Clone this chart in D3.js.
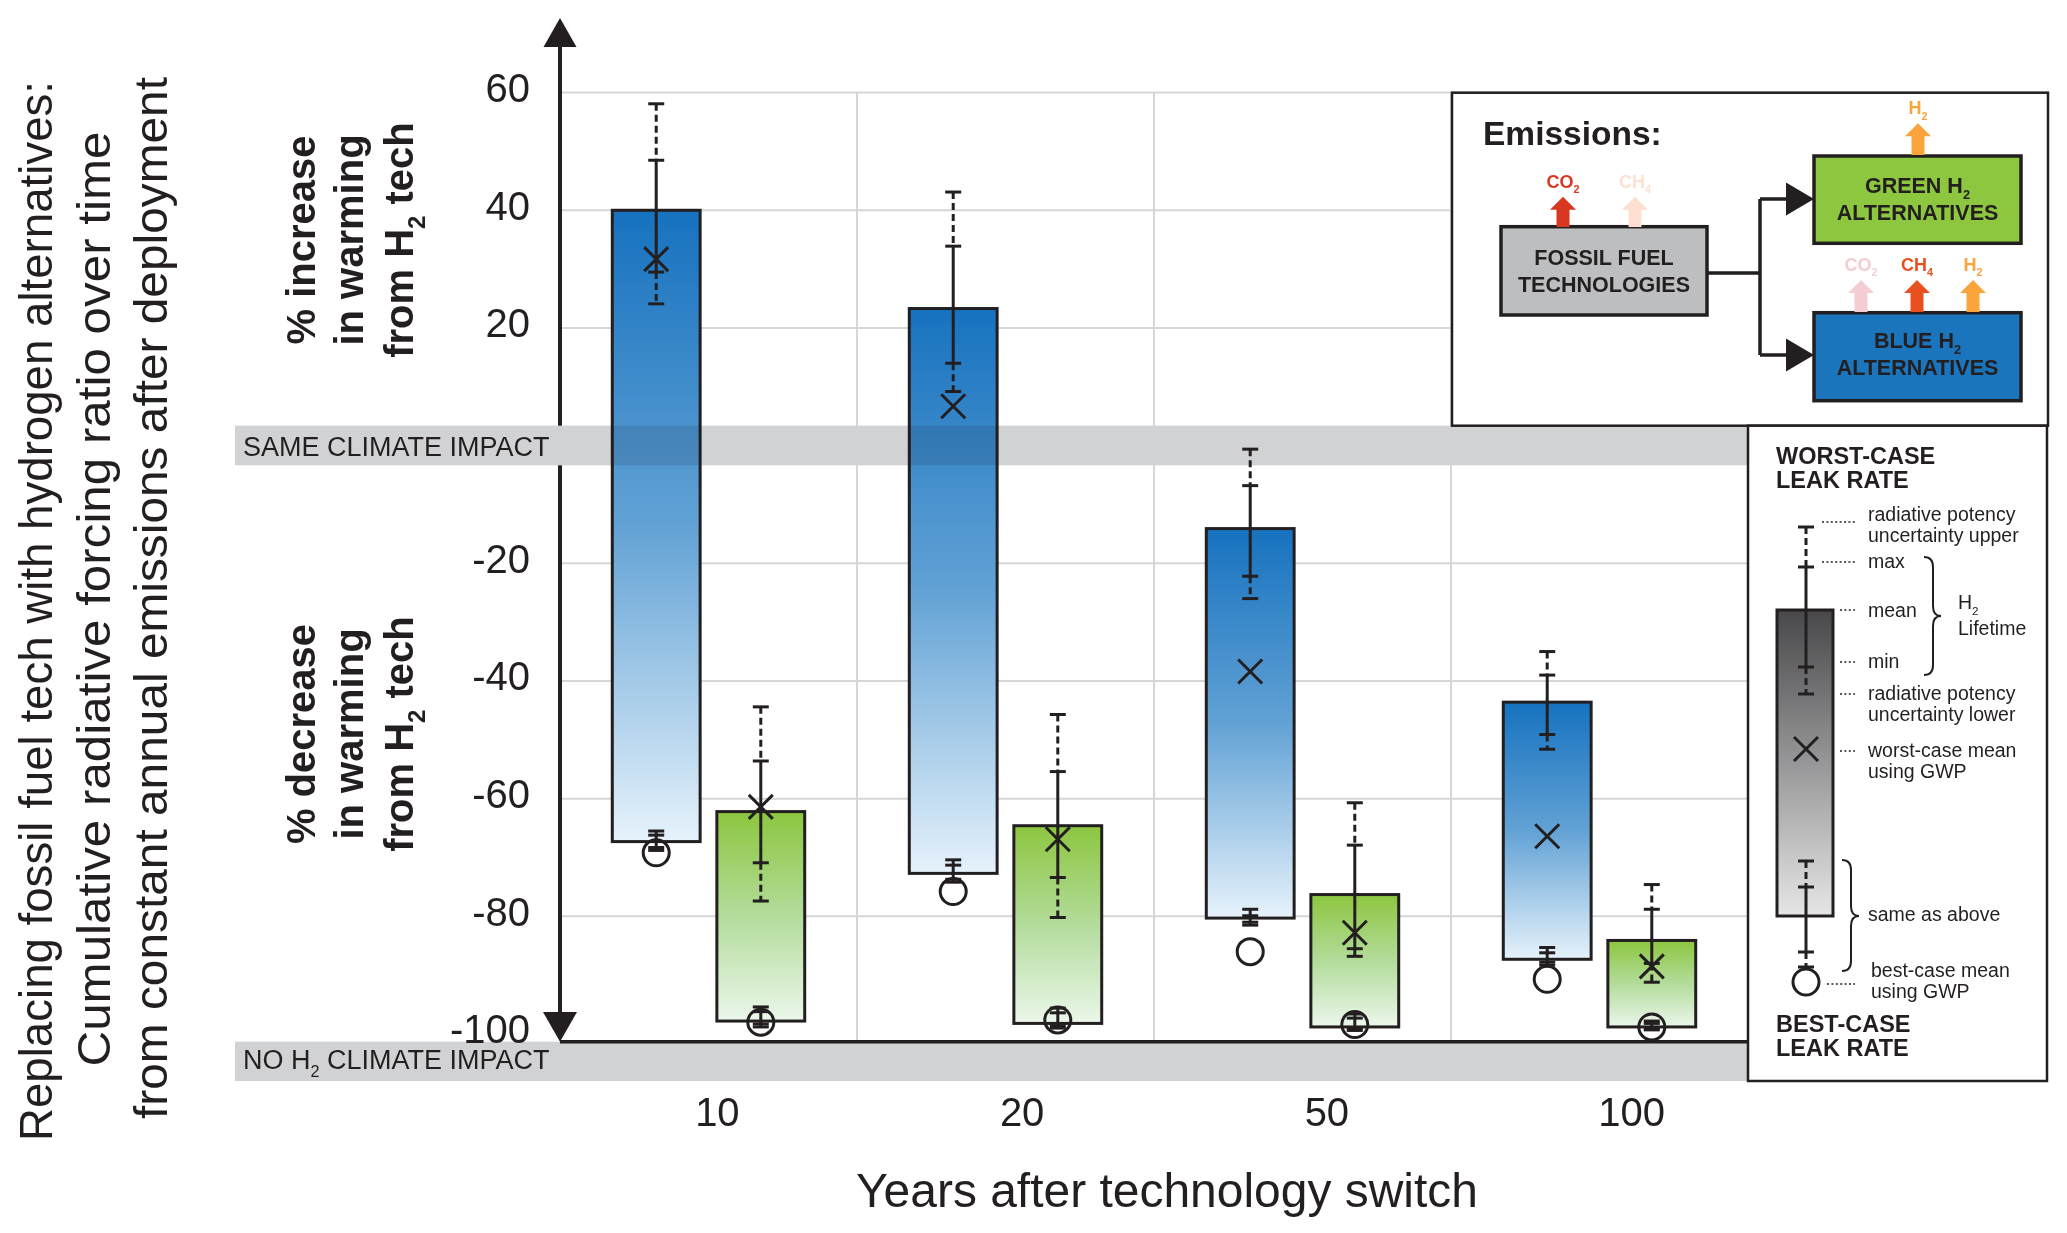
<!DOCTYPE html>
<html>
<head>
<meta charset="utf-8">
<script src="https://cdn.jsdelivr.net/npm/d3@7"></script>
<style>
  html, body { margin: 0; padding: 0; background: #fff; }
  svg { display: block; }
  text { font-family: "Liberation Sans", Arial, Helvetica, sans-serif; fill: #231f20; }
</style>
</head>
<body>
<div id="chart"></div>
<script>
// Categories
const years = ["10", "20", "50", "100"];
const techs = ["blue", "green"];
const yTicks = [60, 40, 20, -20, -40, -60, -80, -100];

// Worst-case leak rate per year: potency upper, max, mean (bar top), min, potency lower
const blueWorst = [
    [58.1, 48.5, 40.0, 29.5, 24.1],
    [43.1, 33.9, 23.3, 14.0, 9.2],
    [-0.6, -6.8, -14.1, -22.2, -26.0],
    [-35.0, -39.0, -43.6, -49.1, -51.6]
];
const blueWorstGwp = [31.7, 6.7, -38.4, -66.4];
// Best-case leak rate: same order, mean is the bar bottom
const blueBest = [
    [-65.5, -66.2, -67.3, -68.3, -68.8],
    [-70.4, -71.3, -72.7, -73.7, -74.2],
    [-78.8, -79.9, -80.3, -81.0, -81.5],
    [-85.3, -86.2, -87.3, -87.8, -88.3]
];
const blueBestGwp = [-69.2, -75.8, -86.0, -90.7];

const greenWorst = [
    [-44.4, -53.6, -62.2, -70.9, -77.4],
    [-45.7, -55.4, -64.6, -73.4, -80.2],
    [-60.7, -67.9, -76.3, -85.5, -86.8],
    [-74.6, -78.8, -84.1, -88.0, -91.2]
];
const greenWorstGwp = [-61.4, -66.9, -82.8, -88.5];
const greenBest = [
    [-95.4, -96.2, -97.8, -98.3, -98.8],
    [-95.6, -96.4, -98.2, -98.6, -99.0],
    [-96.6, -97.3, -98.8, -99.1, -99.4],
    [-97.8, -98.2, -98.8, -99.1, -99.3]
];
const greenBestGwp = [-98.0, -97.6, -98.4, -98.8];

const rows = [];
years.forEach((yr, i) => {
    rows.push({year: yr, tech: "blue", worst: blueWorst[i], best: blueBest[i], wGwp: blueWorstGwp[i], bGwp: blueBestGwp[i]});
    rows.push({year: yr, tech: "green", worst: greenWorst[i], best: greenBest[i], wGwp: greenWorstGwp[i], bGwp: greenBestGwp[i]});
});

const ink = "#231f20";
const svgWidth = 2067, svgHeight = 1233;

let svg = d3.select("#chart").append("svg")
    .attr("width", svgWidth)
    .attr("height", svgHeight);
svg.append("rect").attr("width", svgWidth).attr("height", svgHeight).attr("fill", "#fff");

// Scales
let y = d3.scaleLinear().domain([-100, 60]).range([1034, 92.6]);
let x0 = d3.scaleBand().domain(years).range([560, 1748]);
let x1 = d3.scaleBand().domain(techs).range([0, x0.bandwidth()]).paddingInner(0.16).paddingOuter(0.5);
let xLabel = d3.scaleBand().domain(years).range([565, 1784]);
const axisX = 560;
const baseY = y(-101.3);

// Gradients
let defs = svg.append("defs");
function gradient(id, stops) {
    let g = defs.append("linearGradient").attr("id", id)
        .attr("x1", 0).attr("y1", 0).attr("x2", 0).attr("y2", 1);
    stops.forEach(s => g.append("stop").attr("offset", s[0]).attr("stop-color", s[1]));
}
gradient("grad-blue", [[0, "#1672bf"], [0.5, "#62a2d5"], [1, "#e6f2fb"]]);
gradient("grad-green", [[0, "#8cc63f"], [0.5, "#b3dc9b"], [1, "#ebf7eb"]]);
gradient("grad-gray", [[0, "#48484a"], [1, "#e6e6e7"]]);

// helper for text with subscripts
function rich(sel, parts) {
    const fs = parseFloat(sel.attr("font-size"));
    parts.forEach((p, i) => {
        let ts = sel.append("tspan").text(p[0]);
        if (p[1]) ts.attr("font-size", fs * 0.6).attr("dy", fs * 0.3);
        else if (i > 0 && parts[i - 1][1]) ts.attr("dy", -fs * 0.3);
    });
    return sel;
}

// Gridlines
let grid = svg.append("g").attr("stroke", "#d6d6d8").attr("stroke-width", 2);
grid.selectAll("line.h")
    .data(yTicks.filter(d => d > -100))
    .join("line")
    .attr("x1", axisX).attr("x2", 2047)
    .attr("y1", d => y(d)).attr("y2", d => y(d));
grid.selectAll("line.v")
    .data(years.slice(1))
    .join("line")
    .attr("x1", d => x0(d)).attr("x2", d => x0(d))
    .attr("y1", y(60)).attr("y2", baseY);

// Y axis line with arrows
svg.append("line")
    .attr("x1", axisX).attr("x2", axisX)
    .attr("y1", 45).attr("y2", 1014)
    .attr("stroke", ink).attr("stroke-width", 4);
svg.append("path")
    .attr("d", `M${axisX - 16.5},47 L${axisX + 16.5},47 L${axisX},18 Z`)
    .attr("fill", ink);

// Bands
const sameTop = y(3.4), sameBot = y(-3.35);
svg.append("rect")
    .attr("x", 235).attr("width", 1748 - 235)
    .attr("y", sameTop).attr("height", sameBot - sameTop)
    .attr("fill", "#d1d2d4");
svg.append("rect")
    .attr("x", 235).attr("width", 1748 - 235)
    .attr("y", baseY).attr("height", 1081 - baseY)
    .attr("fill", "#d1d2d4");
svg.append("line")
    .attr("x1", axisX).attr("x2", 1748)
    .attr("y1", baseY).attr("y2", baseY)
    .attr("stroke", ink).attr("stroke-width", 3.5);
svg.append("path")
    .attr("d", `M${axisX - 17},1012 L${axisX + 17},1012 L${axisX},${baseY} Z`)
    .attr("fill", ink);

svg.append("text")
    .attr("x", 243).attr("y", y(0) + 10)
    .attr("font-size", 27)
    .text("SAME CLIMATE IMPACT");
rich(svg.append("text").attr("x", 243).attr("y", 1069).attr("font-size", 27),
    [["NO H", false], ["2", true], [" CLIMATE IMPACT", false]]);

// Y tick labels (plain hyphen minus, as in the original)
let yAxis = svg.append("g")
    .attr("transform", `translate(${axisX},0)`)
    .call(d3.axisLeft(y).tickValues(yTicks).tickFormat(d => String(d)).tickSize(0).tickPadding(30));
yAxis.select(".domain").remove();
yAxis.attr("font-family", null).attr("font-size", null);
yAxis.selectAll("text").attr("font-size", 40).attr("y", -4).attr("fill", ink);

// X labels
let xAxis = svg.append("g")
    .attr("transform", "translate(0,1095)")
    .call(d3.axisBottom(xLabel).tickSize(0));
xAxis.select(".domain").remove();
xAxis.attr("font-family", null).attr("font-size", null);
xAxis.selectAll("text").attr("font-size", 40).attr("fill", ink);

svg.append("text")
    .attr("x", 1167).attr("y", 1207)
    .attr("text-anchor", "middle")
    .attr("font-size", 48)
    .attr("textLength", 622).attr("lengthAdjust", "spacingAndGlyphs")
    .text("Years after technology switch");

// Left titles
const titles = [
    ["Replacing fossil fuel tech with hydrogen alternatives:", 51.7, 611, 1060],
    ["Cumulative radiative forcing ratio over time", 110, 599, 935],
    ["from constant annual emissions after deployment", 166.7, 598, 1042]
];
titles.forEach(t => {
    svg.append("text")
        .attr("transform", `translate(${t[1]},${t[2]}) rotate(-90)`)
        .attr("text-anchor", "middle")
        .attr("font-size", 46)
        .attr("textLength", t[3]).attr("lengthAdjust", "spacingAndGlyphs")
        .text(t[0]);
});

// Inner axis labels
function sideLabel(lines, cy) {
    const bx = [315, 363, 413];
    lines.forEach((parts, i) => {
        let t = svg.append("text")
            .attr("transform", `translate(${bx[i]},${cy}) rotate(-90)`)
            .attr("text-anchor", "middle")
            .attr("font-size", 40)
            .attr("font-weight", "bold");
        rich(t, parts);
    });
}
sideLabel([[["% increase", false]], [["in warming", false]], [["from H", false], ["2", true], [" tech", false]]], 240);
sideLabel([[["% decrease", false]], [["in warming", false]], [["from H", false], ["2", true], [" tech", false]]], 734);

// Bars
const bw = x1.bandwidth();
const barX = d => x0(d.year) + x1(d.tech);
let bars = svg.append("g");
bars.selectAll("rect")
    .data(rows)
    .join("rect")
    .attr("x", barX)
    .attr("y", d => y(d.worst[2]))
    .attr("width", bw)
    .attr("height", d => y(d.best[2]) - y(d.worst[2]))
    .attr("fill", d => `url(#grad-${d.tech})`)
    .attr("stroke", ink)
    .attr("stroke-width", 3);

// band darkens the bars slightly where it crosses them
let clip = defs.append("clipPath").attr("id", "barClip");
clip.selectAll("rect").data(rows).join("rect")
    .attr("x", barX).attr("y", d => y(d.worst[2]))
    .attr("width", bw).attr("height", d => y(d.best[2]) - y(d.worst[2]));
svg.append("rect")
    .attr("x", 235).attr("width", 1748 - 235)
    .attr("y", sameTop).attr("height", sameBot - sameTop)
    .attr("fill", "#e2e3e5")
    .attr("clip-path", "url(#barClip)")
    .style("mix-blend-mode", "multiply");

// Whiskers: ys = [upper, max, mean, min, lower] in px
function whisker(g, cx, ys) {
    const segs = [[ys[0], ys[1], true], [ys[1], ys[3], false], [ys[3], ys[4], true]];
    segs.forEach(s => {
        g.append("line")
            .attr("x1", cx).attr("x2", cx).attr("y1", s[0]).attr("y2", s[1])
            .attr("stroke", ink).attr("stroke-width", 3)
            .attr("stroke-dasharray", s[2] ? "7,4" : null);
    });
    [ys[0], ys[1], ys[3], ys[4]].forEach(v => {
        g.append("line")
            .attr("x1", cx - 8).attr("x2", cx + 8).attr("y1", v).attr("y2", v)
            .attr("stroke", ink).attr("stroke-width", 3);
    });
}
function cross(g, cx, cy) {
    g.append("path")
        .attr("d", `M${cx - 12},${cy - 12}L${cx + 12},${cy + 12}M${cx - 12},${cy + 12}L${cx + 12},${cy - 12}`)
        .attr("stroke", ink).attr("stroke-width", 3).attr("fill", "none");
}
function ring(g, cx, cy) {
    g.append("circle").attr("cx", cx).attr("cy", cy).attr("r", 13)
        .attr("fill", "none").attr("stroke", ink).attr("stroke-width", 3);
}

let marks = svg.append("g");
rows.forEach(d => {
    const cx = barX(d) + bw / 2;
    whisker(marks, cx, d.worst.map(y));
    whisker(marks, cx, d.best.map(y));
    cross(marks, cx, y(d.wGwp));
    ring(marks, cx, y(d.bGwp));
});

// ---- Emissions legend box ----
let lg = svg.append("g");
lg.append("rect").attr("x", 1452).attr("y", 92.7).attr("width", 596).attr("height", 333)
    .attr("fill", "#fff").attr("stroke", ink).attr("stroke-width", 2.5);
lg.append("text").attr("x", 1483).attr("y", 145).attr("font-size", 33.5).attr("font-weight", "bold")
    .text("Emissions:");

function box(x, yy, w, h, fill, lines, by) {
    lg.append("rect").attr("x", x).attr("y", yy).attr("width", w).attr("height", h)
        .attr("fill", fill).attr("stroke", ink).attr("stroke-width", 3.5);
    lines.forEach((parts, i) => {
        let t = lg.append("text").attr("x", x + w / 2).attr("y", by[i])
            .attr("text-anchor", "middle").attr("font-size", 21.5).attr("font-weight", "bold");
        rich(t, parts);
    });
}
box(1501, 226.7, 206, 88.3, "#bcbec0", [[["FOSSIL FUEL", false]], [["TECHNOLOGIES", false]]], [265, 292]);
box(1814, 156, 207, 87.3, "#8dc63f", [[["GREEN H", false], ["2", true]], [["ALTERNATIVES", false]]], [193, 220]);
box(1814, 312.7, 207, 88, "#1b75bc", [[["BLUE H", false], ["2", true]], [["ALTERNATIVES", false]]], [348, 375]);

lg.append("path")
    .attr("d", "M1707,273H1760M1760,199V355M1760,199H1788M1760,355H1788")
    .attr("stroke", ink).attr("stroke-width", 3.5).attr("fill", "none");
lg.append("path").attr("d", "M1786,182.5L1814,199L1786,215.5Z").attr("fill", ink);
lg.append("path").attr("d", "M1786,338.5L1814,355L1786,371.5Z").attr("fill", ink);

function emission(cx, tipY, baseY2, color, label) {
    lg.append("path")
        .attr("d", `M${cx},${tipY}L${cx + 13},${tipY + 13}L${cx + 6.5},${tipY + 13}L${cx + 6.5},${baseY2}` +
            `L${cx - 6.5},${baseY2}L${cx - 6.5},${tipY + 13}L${cx - 13},${tipY + 13}Z`)
        .attr("fill", color);
    let t = lg.append("text").attr("x", cx).attr("y", tipY - 9)
        .attr("text-anchor", "middle").attr("font-size", 18).attr("font-weight", "bold")
        .style("fill", color);
    rich(t, label);
}
emission(1563, 196.7, 227, "#d7381f", [["CO", false], ["2", true]]);
emission(1635, 196.7, 227, "#fde0d2", [["CH", false], ["4", true]]);
emission(1918, 123.3, 155, "#f9a53b", [["H", false], ["2", true]]);
emission(1861, 280, 312, "#f3cdd2", [["CO", false], ["2", true]]);
emission(1917, 280, 312, "#e8501f", [["CH", false], ["4", true]]);
emission(1973, 280, 312, "#f9a53b", [["H", false], ["2", true]]);

// ---- Whisker key box ----
let kg = svg.append("g");
kg.append("rect").attr("x", 1748).attr("y", 425.7).attr("width", 299).attr("height", 1081 - 425.7)
    .attr("fill", "#fff").attr("stroke", ink).attr("stroke-width", 2.5);
[["WORST-CASE", 464], ["LEAK RATE", 488], ["BEST-CASE", 1032], ["LEAK RATE", 1056]].forEach(t => {
    kg.append("text").attr("x", 1776).attr("y", t[1]).attr("font-size", 23.5).attr("font-weight", "bold").text(t[0]);
});
kg.append("rect").attr("x", 1777).attr("y", 610).attr("width", 56).attr("height", 306)
    .attr("fill", "url(#grad-gray)").attr("stroke", ink).attr("stroke-width", 3);
whisker(kg, 1806, [527, 567, 610, 667, 694]);
whisker(kg, 1806, [861, 887, 916, 952, 967]);
cross(kg, 1806, 749);
ring(kg, 1806, 982);

const leaders = [[1822, 522], [1822, 562], [1840, 610], [1840, 662], [1840, 694], [1840, 751], [1827, 984]];
leaders.forEach(l => {
    kg.append("line").attr("x1", l[0]).attr("x2", 1855).attr("y1", l[1]).attr("y2", l[1])
        .attr("stroke", ink).attr("stroke-width", 1.6).attr("stroke-dasharray", "2,2.4");
});
const keyTexts = [
    [[["radiative potency", false]], 1868, 521], [[["uncertainty upper", false]], 1868, 542],
    [[["max", false]], 1868, 568], [[["mean", false]], 1868, 617], [[["min", false]], 1868, 668],
    [[["radiative potency", false]], 1868, 700], [[["uncertainty lower", false]], 1868, 721],
    [[["worst-case mean", false]], 1868, 757], [[["using GWP", false]], 1868, 778],
    [[["H", false], ["2", true]], 1958, 609], [[["Lifetime", false]], 1958, 635],
    [[["same as above", false]], 1868, 921],
    [[["best-case mean", false]], 1871, 977], [[["using GWP", false]], 1871, 998]
];
keyTexts.forEach(k => {
    rich(kg.append("text").attr("x", k[1]).attr("y", k[2]).attr("font-size", 19.5), k[0]);
});
// braces
kg.append("path")
    .attr("d", "M1924,557Q1933,557 1933,567L1933,606Q1933,616 1941,616Q1933,616 1933,626L1933,665Q1933,675 1924,675")
    .attr("fill", "none").attr("stroke", ink).attr("stroke-width", 2);
kg.append("path")
    .attr("d", "M1842,860Q1851,860 1851,870L1851,906Q1851,916 1859,916Q1851,916 1851,926L1851,961Q1851,971 1842,971")
    .attr("fill", "none").attr("stroke", ink).attr("stroke-width", 2);
</script>
</body>
</html>
